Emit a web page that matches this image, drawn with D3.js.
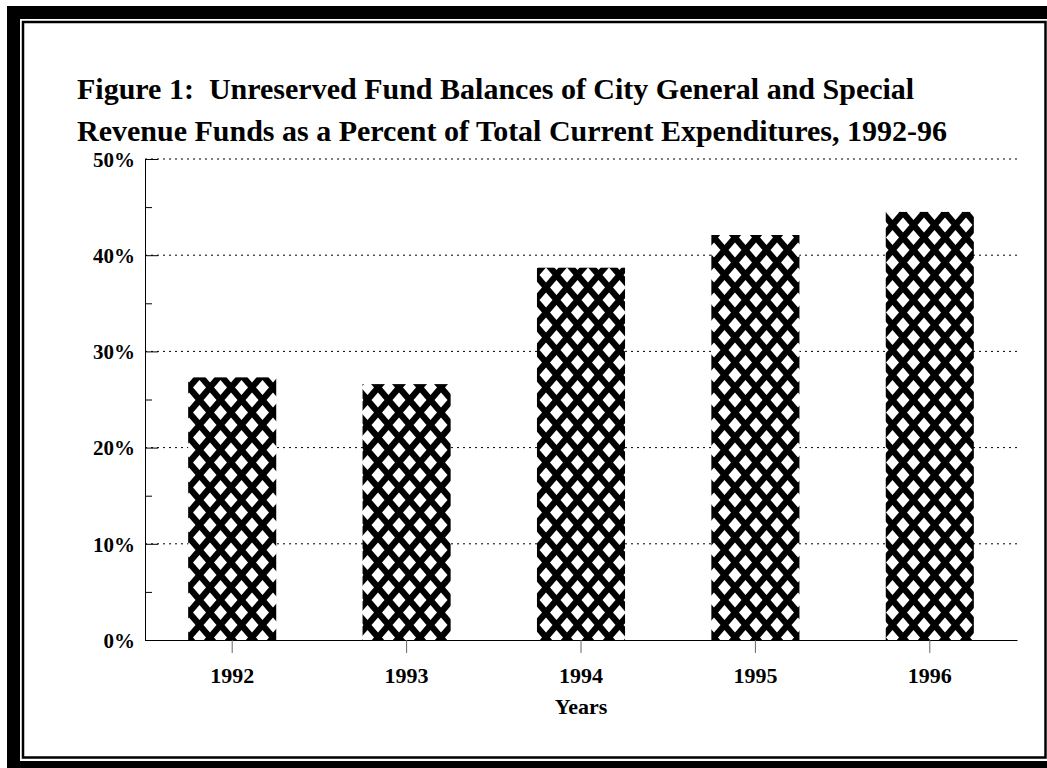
<!doctype html>
<html>
<head>
    <meta charset="UTF-8">
    <title>Figure 1</title>
    <script src="https://cdn.jsdelivr.net/npm/d3@7"></script>
    <style>
        body { margin: 0; background: #fff; }
        text { font-family: "Liberation Serif", "Times New Roman", serif; font-weight: bold; fill: #000; }
    </style>
</head>
<body>

    <div id="chart"></div>

    <script>

        var years = ["1992", "1993", "1994", "1995", "1996"];
        var balances = [27.3, 26.6, 38.7, 42.1, 44.5];
        var yTicks = [0, 10, 20, 30, 40, 50];
        var yMinor = [5, 15, 25, 35, 45];

        var width = 1047,
            height = 768;

        var margin = { left: 145, right: 30, top: 159, bottom: 128 };

        var svg = d3.select("#chart")
            .append("svg")
            .attr("width", width)
            .attr("height", height);

        // hatch fill for bars
        var pw = 21, ph = 25;
        var pat = svg.append("defs")
            .append("pattern")
            .attr("id", "hatch")
            .attr("patternUnits", "userSpaceOnUse")
            .attr("width", pw)
            .attr("height", ph);
        pat.append("rect")
            .attr("width", pw)
            .attr("height", ph)
            .attr("fill", "#000");
        var dw = 6.5, dh = 7.5;
        [[pw / 2, ph / 2], [0, 0], [pw, 0], [0, ph], [pw, ph]].forEach(function (c) {
            pat.append("path")
                .attr("d", "M" + (c[0] - dw) + "," + c[1] + "L" + c[0] + "," + (c[1] - dh) +
                    "L" + (c[0] + dw) + "," + c[1] + "L" + c[0] + "," + (c[1] + dh) + "Z")
                .attr("fill", "#fff");
        });

        // frame
        svg.append("rect")
            .attr("x", 7).attr("y", 6)
            .attr("width", 1100).attr("height", 800)
            .attr("fill", "#000");
        svg.append("rect")
            .attr("x", 20).attr("y", 19)
            .attr("width", 1029).attr("height", 742)
            .attr("fill", "#fff");
        svg.append("rect")
            .attr("x", 23).attr("y", 22)
            .attr("width", 1022.5).attr("height", 735.5)
            .attr("fill", "none")
            .attr("stroke", "#000")
            .attr("stroke-width", 2.5);

        // title
        var title = svg.append("text")
            .attr("x", 77)
            .attr("y", 99)
            .style("font-size", "30px");
        title.append("tspan")
            .attr("x", 77)
            .attr("xml:space", "preserve")
            .text("Figure 1:  Unreserved Fund Balances of City General and Special");
        title.append("tspan")
            .attr("x", 77)
            .attr("dy", 42)
            .text("Revenue Funds as a Percent of Total Current Expenditures, 1992-96");

        var x = d3.scaleBand()
            .domain(years)
            .range([margin.left, width - margin.right])
            .paddingInner(0.495)
            .paddingOuter(0.2475);

        var y = d3.scaleLinear()
            .domain([0, 50])
            .range([height - margin.bottom, margin.top]);

        // dotted grid
        svg.selectAll(".grid")
            .data(yTicks.filter(function (d) { return d > 0; }))
            .enter()
            .append("line")
            .attr("class", "grid")
            .attr("x1", margin.left)
            .attr("x2", width - margin.right)
            .attr("y1", function (d) { return y(d); })
            .attr("y2", function (d) { return y(d); })
            .style("stroke", "#000")
            .style("stroke-width", 1)
            .style("stroke-dasharray", "2,4");

        // bars
        svg.selectAll(".bar")
            .data(balances)
            .enter()
            .append("rect")
            .attr("class", "bar")
            .attr("x", function (d, i) { return x(years[i]); })
            .attr("y", function (d) { return y(d); })
            .attr("width", x.bandwidth())
            .attr("height", function (d) { return y(0) - y(d); })
            .attr("fill", "url(#hatch)");

        // y axis
        var yAxis = svg.append("g")
            .attr("transform", "translate(" + margin.left + ",0)")
            .call(d3.axisLeft(y)
                .tickValues(yTicks)
                .tickSizeInner(-13)
                .tickSizeOuter(0)
                .tickPadding(10)
                .tickFormat(function (d) { return d + "%"; }));
        yAxis.select(".domain").attr("stroke", "#000");
        yAxis.selectAll("text").style("font-size", "21px").attr("dy", "0.35em");

        svg.append("g")
            .attr("transform", "translate(" + margin.left + ",0)")
            .call(d3.axisLeft(y)
                .tickValues(yMinor)
                .tickSizeInner(-7)
                .tickSizeOuter(0)
                .tickFormat(""))
            .select(".domain").remove();

        // x axis
        var xAxis = svg.append("g")
            .attr("transform", "translate(0," + y(0) + ")")
            .call(d3.axisBottom(x)
                .tickSize(13)
                .tickSizeOuter(0)
                .tickPadding(14));
        xAxis.select(".domain").attr("stroke", "#000");
        xAxis.selectAll(".tick line").attr("stroke", "#666");
        xAxis.selectAll("text").style("font-size", "22px");

        svg.append("text")
            .attr("x", (margin.left + width - margin.right) / 2)
            .attr("y", 714)
            .attr("text-anchor", "middle")
            .style("font-size", "22px")
            .text("Years");

    </script>

</body>
</html>
